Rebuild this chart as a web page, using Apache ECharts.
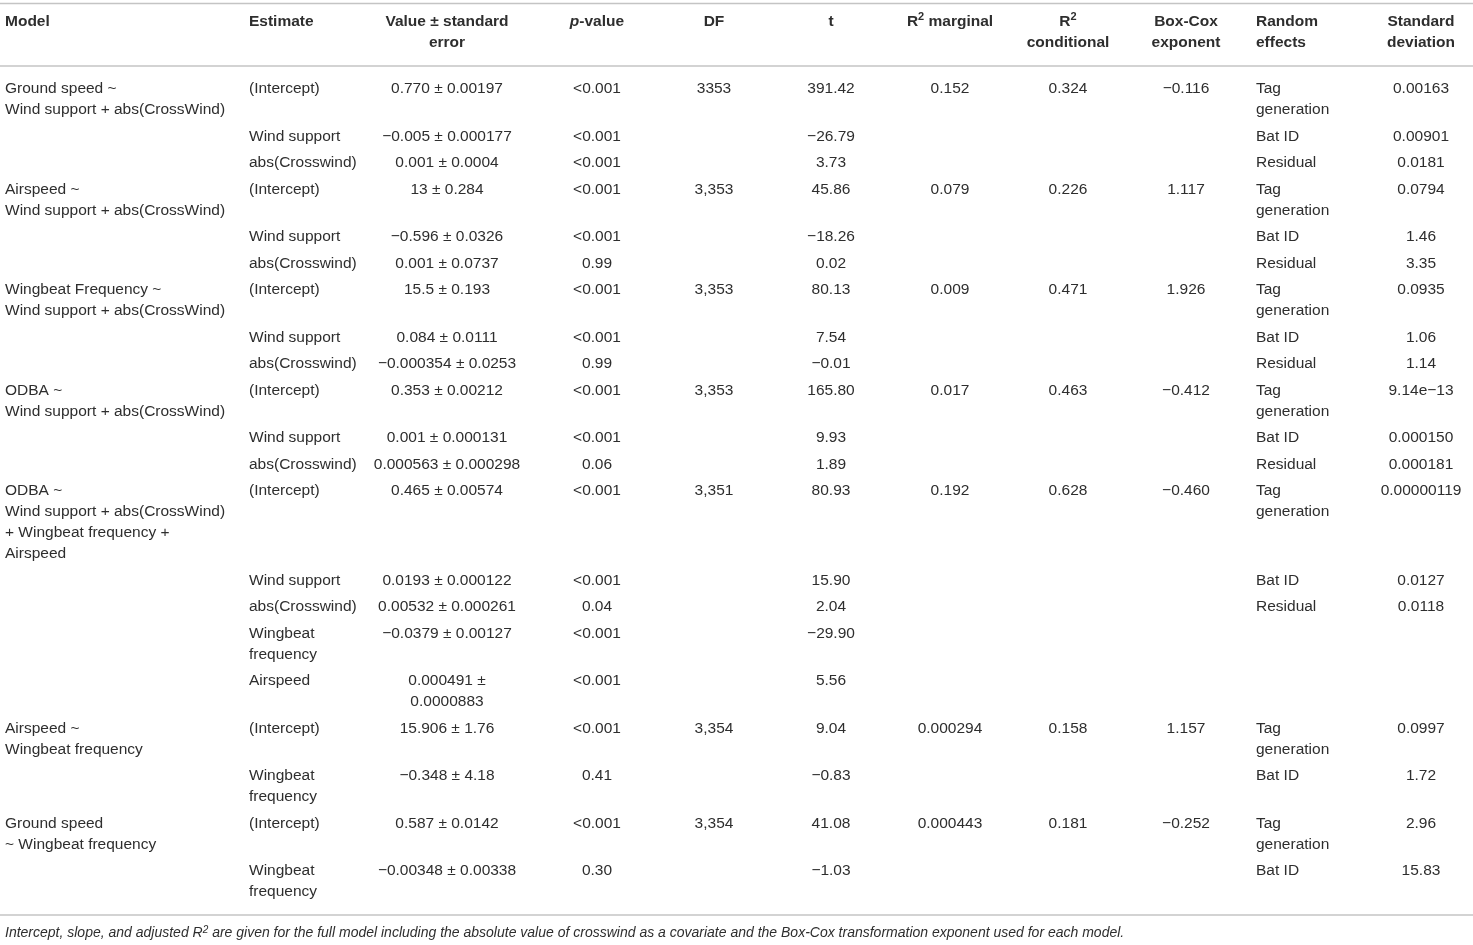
<!DOCTYPE html>
<html>
<head>
<meta charset="utf-8">
<script src="https://cdn.jsdelivr.net/npm/echarts@6/dist/echarts.min.js"></script>
<style>
html,body{margin:0;padding:0;background:#fff;}
#main{width:1473px;height:945px;}
</style>
</head>
<body>
<div id="main"></div>
<script>
// ---------------- DATA ----------------
const HEADERS = [
  'Model', 'Estimate', 'Value ± standard\nerror', '{i|p}-value', 'DF', 't',
  'R{sup|2} marginal', 'R{sup|2}\nconditional', 'Box-Cox\nexponent', 'Random\neffects', 'Standard\ndeviation'
];

const MODEL = [
  'Ground speed ~\nWind support + abs(CrossWind)', '', '',
  'Airspeed ~\nWind support + abs(CrossWind)', '', '',
  'Wingbeat Frequency ~\nWind support + abs(CrossWind)', '', '',
  'ODBA ~\nWind support + abs(CrossWind)', '', '',
  'ODBA ~\nWind support + abs(CrossWind)\n+ Wingbeat frequency +\nAirspeed', '', '', '', '',
  'Airspeed ~\nWingbeat frequency', '',
  'Ground speed\n~ Wingbeat frequency', ''
];
const ESTIMATE = [
  '(Intercept)', 'Wind support', 'abs(Crosswind)',
  '(Intercept)', 'Wind support', 'abs(Crosswind)',
  '(Intercept)', 'Wind support', 'abs(Crosswind)',
  '(Intercept)', 'Wind support', 'abs(Crosswind)',
  '(Intercept)', 'Wind support', 'abs(Crosswind)', 'Wingbeat\nfrequency', 'Airspeed',
  '(Intercept)', 'Wingbeat\nfrequency',
  '(Intercept)', 'Wingbeat\nfrequency'
];
const VALUE_SE = [
  '0.770 ± 0.00197', '−0.005 ± 0.000177', '0.001 ± 0.0004',
  '13 ± 0.284', '−0.596 ± 0.0326', '0.001 ± 0.0737',
  '15.5 ± 0.193', '0.084 ± 0.0111', '−0.000354 ± 0.0253',
  '0.353 ± 0.00212', '0.001 ± 0.000131', '0.000563 ± 0.000298',
  '0.465 ± 0.00574', '0.0193 ± 0.000122', '0.00532 ± 0.000261', '−0.0379 ± 0.00127', '0.000491 ±\n0.0000883',
  '15.906 ± 1.76', '−0.348 ± 4.18',
  '0.587 ± 0.0142', '−0.00348 ± 0.00338'
];
const P_VALUE = [
  '<0.001', '<0.001', '<0.001',
  '<0.001', '<0.001', '0.99',
  '<0.001', '<0.001', '0.99',
  '<0.001', '<0.001', '0.06',
  '<0.001', '<0.001', '0.04', '<0.001', '<0.001',
  '<0.001', '0.41',
  '<0.001', '0.30'
];
const DF = [
  '3353', '', '',
  '3,353', '', '',
  '3,353', '', '',
  '3,353', '', '',
  '3,351', '', '', '', '',
  '3,354', '',
  '3,354', ''
];
const T_VALUE = [
  '391.42', '−26.79', '3.73',
  '45.86', '−18.26', '0.02',
  '80.13', '7.54', '−0.01',
  '165.80', '9.93', '1.89',
  '80.93', '15.90', '2.04', '−29.90', '5.56',
  '9.04', '−0.83',
  '41.08', '−1.03'
];
const R2_MARGINAL = [
  '0.152', '', '',
  '0.079', '', '',
  '0.009', '', '',
  '0.017', '', '',
  '0.192', '', '', '', '',
  '0.000294', '',
  '0.000443', ''
];
const R2_CONDITIONAL = [
  '0.324', '', '',
  '0.226', '', '',
  '0.471', '', '',
  '0.463', '', '',
  '0.628', '', '', '', '',
  '0.158', '',
  '0.181', ''
];
const BOXCOX = [
  '−0.116', '', '',
  '1.117', '', '',
  '1.926', '', '',
  '−0.412', '', '',
  '−0.460', '', '', '', '',
  '1.157', '',
  '−0.252', ''
];
const RANDOM_EFFECTS = [
  'Tag\ngeneration', 'Bat ID', 'Residual',
  'Tag\ngeneration', 'Bat ID', 'Residual',
  'Tag\ngeneration', 'Bat ID', 'Residual',
  'Tag\ngeneration', 'Bat ID', 'Residual',
  'Tag\ngeneration', 'Bat ID', 'Residual', '', '',
  'Tag\ngeneration', 'Bat ID',
  'Tag\ngeneration', 'Bat ID'
];
const STD_DEV = [
  '0.00163', '0.00901', '0.0181',
  '0.0794', '1.46', '3.35',
  '0.0935', '1.06', '1.14',
  '9.14e−13', '0.000150', '0.000181',
  '0.00000119', '0.0127', '0.0118', '', '',
  '0.0997', '1.72',
  '2.96', '15.83'
];
const FOOTNOTE = 'Intercept, slope, and adjusted {r|R}{sup|2} are given for the full model including the absolute value of crosswind as a covariate and the Box-Cox transformation exponent used for each model.';

const COLUMNS = [MODEL, ESTIMATE, VALUE_SE, P_VALUE, DF, T_VALUE, R2_MARGINAL, R2_CONDITIONAL, BOXCOX, RANDOM_EFFECTS, STD_DEV];

// ---------------- LAYOUT ----------------
const W = 1473, H = 945;
const COL_X = [5, 249, 447, 597, 714, 831, 950, 1068, 1186, 1256, 1421];
const COL_ALIGN = ['left', 'left', 'center', 'center', 'center', 'center', 'center', 'center', 'center', 'left', 'center'];
const FONT_SIZE = 15.5;
const LINE_H = 21;
const ROW_GAP = 5.5;
const TOP_RULE = 3.5;
const HEADER_TEXT_TOP = 11.5;
const HEADER_RULE = 66;
const BODY_PAD = 12.5;
const FONT_FAMILY = '"Liberation Sans", Arial, Helvetica, sans-serif';
const TEXT_COLOR = '#2e2e2e';
const RULE_COLOR = '#c4c4c4';

const nRows = MODEL.length;
const rowLines = [];
for (let r = 0; r < nRows; r++) {
  let m = 1;
  COLUMNS.forEach(col => { m = Math.max(m, col[r].split('\n').length); });
  rowLines.push(m);
}
const rowTop = [];
let yCur = HEADER_RULE + BODY_PAD;
for (let r = 0; r < nRows; r++) {
  rowTop.push(yCur);
  yCur += rowLines[r] * LINE_H + (r < nRows - 1 ? ROW_GAP : 0);
}
const BOTTOM_RULE = yCur + BODY_PAD;
const RULES = [TOP_RULE, HEADER_RULE, BOTTOM_RULE];

const cellData = [];
for (let r = 0; r < nRows; r++) {
  for (let c = 0; c < COLUMNS.length; c++) {
    if (COLUMNS[c][r] !== '') cellData.push([c, r]);
  }
}
const headerData = HEADERS.map((h, c) => [c]);

const supRich = {
  sup: { fontSize: 11, fontWeight: 'bold', fontFamily: FONT_FAMILY, fill: TEXT_COLOR, verticalAlign: 'top', lineHeight: 11 },
  i: { fontStyle: 'italic', fontWeight: 'bold', fontSize: FONT_SIZE, fontFamily: FONT_FAMILY, fill: TEXT_COLOR }
};

const chart = echarts.init(document.getElementById('main'), null, { renderer: 'canvas' });
chart.setOption({
  backgroundColor: '#ffffff',
  animation: false,
  title: {
    text: FOOTNOTE,
    left: 5,
    top: 925,
    padding: 0,
    textStyle: {
      fontFamily: FONT_FAMILY, fontSize: 14, fontStyle: 'italic', fontWeight: 'normal', color: TEXT_COLOR, lineHeight: 17,
      rich: {
        r: { fontFamily: FONT_FAMILY, fontSize: 14, fontStyle: 'italic', color: TEXT_COLOR, lineHeight: 17 },
        sup: { fontFamily: FONT_FAMILY, fontSize: 10, fontStyle: 'italic', color: TEXT_COLOR, verticalAlign: 'top', lineHeight: 10 }
      }
    }
  },
  grid: { left: 0, right: 0, top: 0, bottom: 0 },
  xAxis: { type: 'value', min: 0, max: W, show: false },
  yAxis: { type: 'value', min: 0, max: H, inverse: true, show: false },
  series: [
    {
      type: 'custom',
      name: 'rules',
      clip: false,
      silent: true,
      data: RULES.map(y => [y]),
      renderItem: function (params, api) {
        const y = api.value(0);
        const p1 = api.coord([0, y]);
        const p2 = api.coord([W, y]);
        return {
          type: 'line',
          shape: { x1: p1[0], y1: p1[1], x2: p2[0], y2: p2[1] },
          style: { stroke: RULE_COLOR, lineWidth: 1.6 }
        };
      }
    },
    {
      type: 'custom',
      name: 'header',
      clip: false,
      silent: true,
      data: headerData,
      renderItem: function (params, api) {
        const c = api.value(0);
        const p = api.coord([COL_X[c], HEADER_TEXT_TOP]);
        return {
          type: 'text',
          x: p[0], y: p[1],
          style: {
            text: HEADERS[c],
            fontFamily: FONT_FAMILY, fontSize: FONT_SIZE, fontWeight: 'bold',
            fill: TEXT_COLOR, align: COL_ALIGN[c], verticalAlign: 'top', lineHeight: LINE_H,
            rich: supRich
          }
        };
      }
    },
    {
      type: 'custom',
      name: 'cells',
      clip: false,
      silent: true,
      data: cellData,
      renderItem: function (params, api) {
        const c = api.value(0), r = api.value(1);
        const p = api.coord([COL_X[c], rowTop[r]]);
        return {
          type: 'text',
          x: p[0], y: p[1],
          style: {
            text: COLUMNS[c][r],
            fontFamily: FONT_FAMILY, fontSize: FONT_SIZE,
            fill: TEXT_COLOR, align: COL_ALIGN[c], verticalAlign: 'top', lineHeight: LINE_H
          }
        };
      }
    }
  ]
});
</script>
</body>
</html>
